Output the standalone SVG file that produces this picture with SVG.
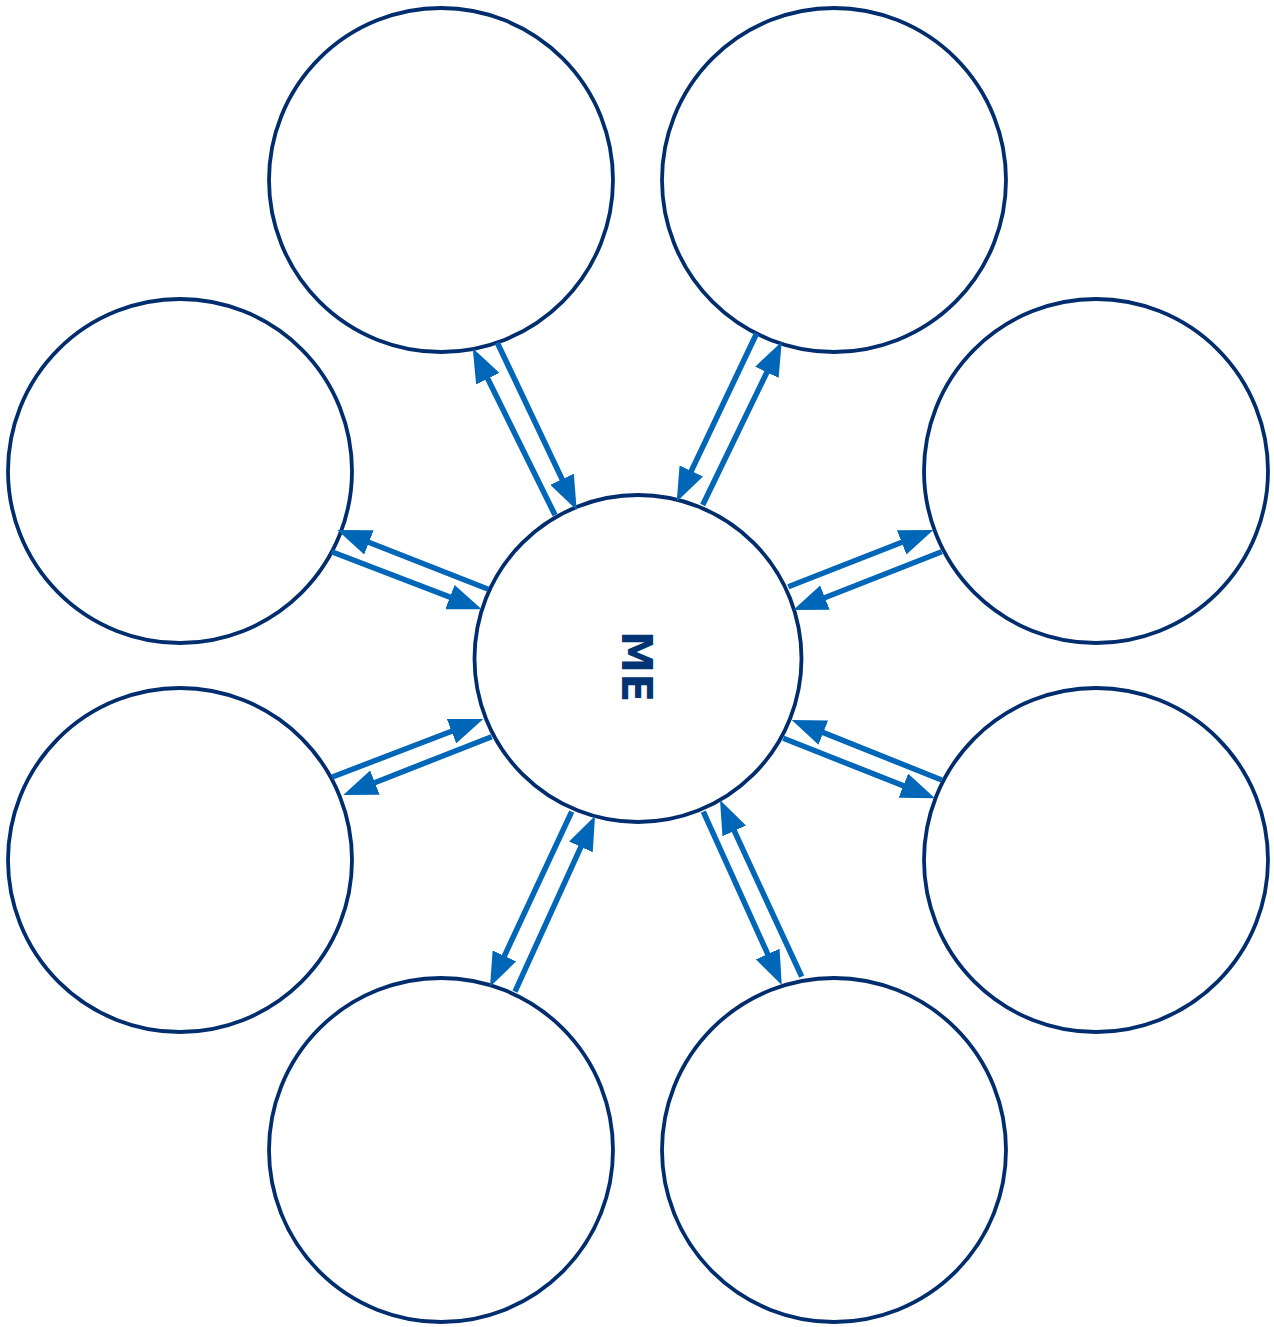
<svg xmlns="http://www.w3.org/2000/svg" width="1274" height="1327" viewBox="0 0 1274 1327">
<style>
.node{fill:#ffffff;stroke:#002d6e;stroke-width:3.8}
.conn line{stroke:#0066b8;stroke-width:5.5;fill:none;marker-end:url(#ah)}
.label{font-family:"DejaVu Sans","Liberation Sans",sans-serif;font-weight:bold;font-size:42.5px;fill:#003473}
</style>
<defs>
<marker id="ah" markerUnits="userSpaceOnUse" viewBox="0 0 34 26" markerWidth="34" markerHeight="26" refX="14" refY="13" orient="auto">
<path d="M0,0 L34,13 L0,26 z" fill="#0066b8"/>
</marker>
</defs>
<rect width="1274" height="1327" fill="#ffffff"/>
<g id="n-top-left"><circle class="node" cx="441" cy="180" r="172"/></g>
<g id="n-top-right"><circle class="node" cx="834" cy="180" r="172"/></g>
<g id="n-left-upper"><circle class="node" cx="180" cy="471" r="172"/></g>
<g id="n-right-upper"><circle class="node" cx="1096" cy="471" r="172"/></g>
<g id="n-left-lower"><circle class="node" cx="180" cy="860" r="172"/></g>
<g id="n-right-lower"><circle class="node" cx="1096" cy="860" r="172"/></g>
<g id="n-bottom-left"><circle class="node" cx="441" cy="1150" r="172"/></g>
<g id="n-bottom-right"><circle class="node" cx="834" cy="1150" r="172"/></g>
<g id="n-me"><circle class="node" cx="638" cy="658.5" r="163.5"/>
<text class="label" transform="translate(637,666.5) rotate(90)" x="0" y="15.5" text-anchor="middle">ME</text></g>
<g id="connectors" class="conn">
<line x1="555" y1="515" x2="481.6" y2="366.2"/>
<line x1="497.3" y1="342.7" x2="568.1" y2="491.9"/>
<line x1="702.7" y1="505" x2="773" y2="359.7"/>
<line x1="756.7" y1="333.3" x2="685.3" y2="483.6"/>
<line x1="488.3" y1="589.3" x2="355.9" y2="537.3"/>
<line x1="331.7" y1="551.7" x2="463" y2="602.1"/>
<line x1="331.7" y1="777.3" x2="464.6" y2="726.2"/>
<line x1="491.7" y1="736.7" x2="361.9" y2="787.7"/>
<line x1="571.7" y1="811.7" x2="498.5" y2="968.6"/>
<line x1="515" y1="991.7" x2="586.7" y2="834.2"/>
<line x1="703.3" y1="811.7" x2="773.5" y2="966.8"/>
<line x1="801.7" y1="976.7" x2="728.4" y2="818.2"/>
<line x1="788.3" y1="586.7" x2="914.7" y2="537.3"/>
<line x1="941.7" y1="551.7" x2="811.9" y2="602.7"/>
<line x1="941.7" y1="780" x2="810.3" y2="727.4"/>
<line x1="783.3" y1="738.3" x2="916.4" y2="790.9"/>
</g>
</svg>
